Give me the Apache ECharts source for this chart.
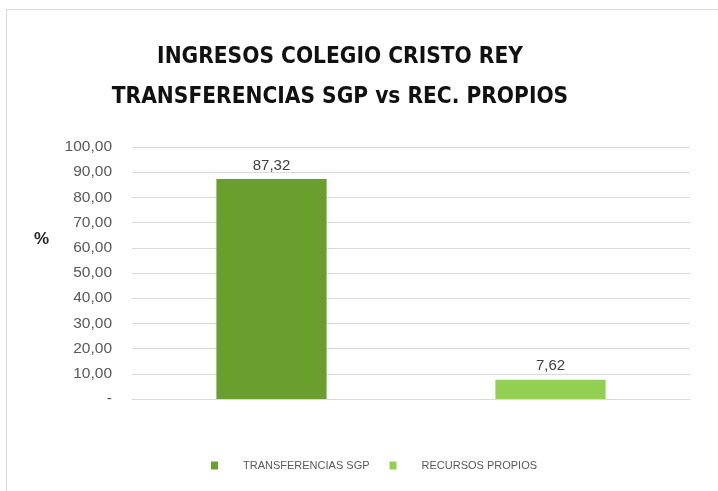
<!DOCTYPE html>
<html>
<head>
<meta charset="utf-8">
<title>Ingresos Colegio Cristo Rey</title>
<script src="https://cdn.jsdelivr.net/npm/echarts@6/dist/echarts.min.js"></script>
<style>
  html, body { margin: 0; padding: 0; background: #fff; }
  #chart_show { width: 718px; height: 491px; }
</style>
</head>
<body>
<div id="chart_show"></div>
<script>
// categorias y valores (%)
var categories = ['TRANSFERENCIAS SGP', 'RECURSOS PROPIOS'];
var values = [87.32, 7.62];
var colors = ['#6a9f2e', '#92d050'];
var yTicks = [0, 10, 20, 30, 40, 50, 60, 70, 80, 90, 100];

var chart = echarts.init(document.getElementById('chart_show'));

function fmt(v) {
    if (v === 0) return '-';
    return v.toFixed(2).replace('.', ',');
}

var option = {
    backgroundColor: '#fff',
    title: {
        text: 'INGRESOS COLEGIO CRISTO REY\nTRANSFERENCIAS SGP vs REC. PROPIOS',
        left: 335,
        textAlign: 'center',
        top: 32,
        textStyle: {
            fontFamily: 'DejaVu Sans Condensed, sans-serif',
            fontWeight: 'bold',
            fontSize: 22.5,
            lineHeight: 40,
            color: '#111'
        }
    },
    legend: {
        data: categories,
        bottom: 15,
        left: 206,
        icon: 'rect',
        itemWidth: 7,
        itemHeight: 8,
        itemGap: 20,
        textStyle: {
            fontFamily: 'Liberation Sans, sans-serif',
            fontSize: 11,
            color: '#595959',
            padding: [0, 0, 0, 20]
        }
    },
    grid: {
        left: 132,
        right: 28,
        top: 147,
        bottom: 92
    },
    xAxis: {
        type: 'category',
        data: categories,
        axisLine: { show: true, lineStyle: { color: '#d9d9d9' } },
        axisTick: { show: false },
        axisLabel: { show: false }
    },
    yAxis: {
        type: 'value',
        min: yTicks[0],
        max: yTicks[yTicks.length - 1],
        interval: 10,
        axisLine: { show: false },
        axisTick: { show: false },
        splitLine: { lineStyle: { color: '#d9d9d9' } },
        axisLabel: {
            margin: 20,
            formatter: fmt,
            fontFamily: 'Liberation Sans, sans-serif',
            fontSize: 15.5,
            color: '#595959'
        }
    },
    graphic: [
        {
            type: 'rect',
            shape: { x: 6.5, y: 9.5, width: 800, height: 600 },
            style: { fill: 'none', stroke: '#d9d9d9', lineWidth: 1 },
            silent: true
        },
        {
            type: 'text',
            left: 34,
            top: 231,
            style: {
                text: '%',
                fontFamily: 'Liberation Sans, sans-serif',
                fontWeight: 'bold',
                fontSize: 17,
                fill: '#262626'
            }
        }
    ],
    series: categories.map(function (name, i) {
        var d = categories.map(function (c, j) { return j === i ? values[i] : '-'; });
        return {
            name: name,
            type: 'bar',
            stack: 'total',
            barWidth: '39.5%',
            itemStyle: { color: colors[i] },
            label: {
                show: true,
                position: 'top',
                distance: 6,
                formatter: function (p) { return fmt(p.value); },
                fontFamily: 'Liberation Sans, sans-serif',
                fontSize: 15,
                color: '#404040'
            },
            data: d
        };
    })
};
chart.setOption(option);
</script>
</body>
</html>
